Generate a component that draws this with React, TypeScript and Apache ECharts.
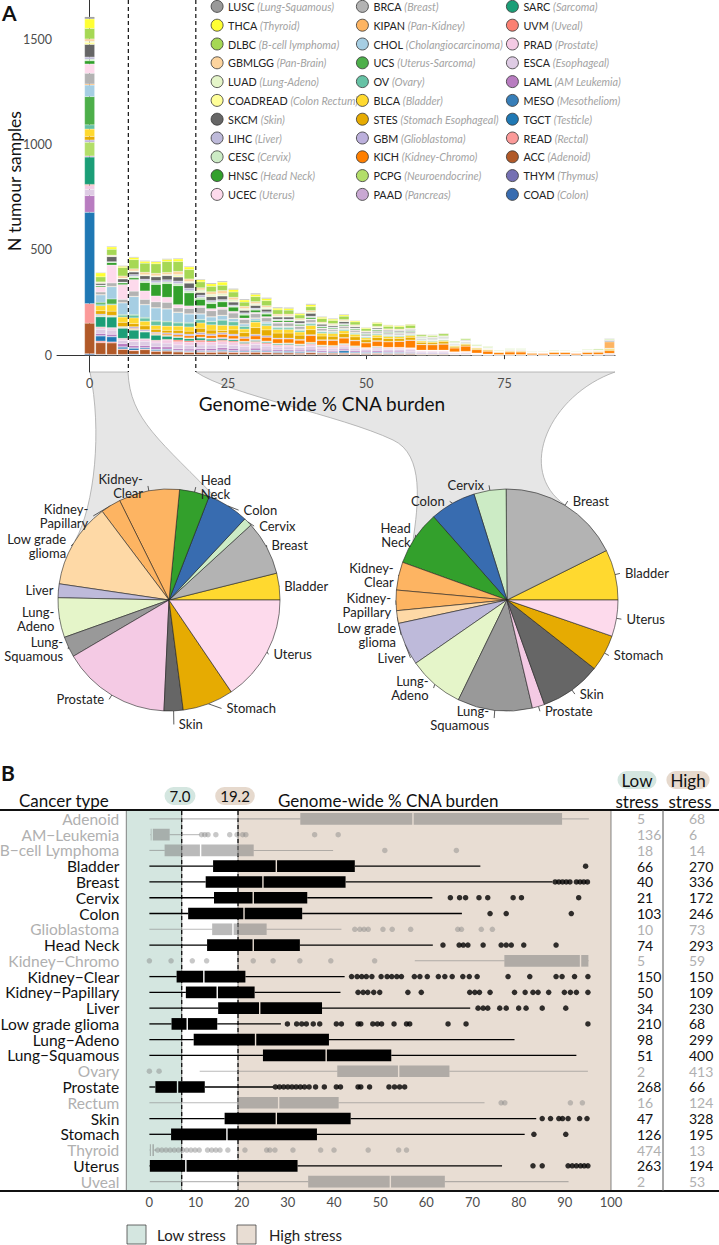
import { useEffect, useRef } from "react";
import * as echarts from "echarts";

const FONT = "Lato, 'Open Sans', sans-serif";

// ---------- Panel A: N tumour samples per 2% CNA-burden bin, stacked by cancer type
const BIN_CENTRES = [0, 2, 4, 6, 8, 10, 12, 14, 16, 18, 20, 22, 24, 26, 28, 30, 32, 34, 36, 38, 40, 42, 44, 46, 48, 50, 52, 54, 56, 58, 60, 62, 64, 66, 68, 70, 72, 74, 76, 78, 80, 82, 84, 86, 88, 90, 92, 94];

const N_LUSC = [10,2,3,3,3,3,3,3,3,3, 3,4,4,4,4,4,4,4,4,3, 4,3,3,3,2,2,2,2,2,2, 2,2,2,1,1,1,1,1,1,1, 1,1,1,1,1,0,1,2];
const N_THCA = [45,19,11,6,10,9,9,10,12,12, 10,12,15,12,10,11,10,8,8,7, 10,6,6,6,5,4,5,5,5,4, 2,2,2,1,1,1,1,1,1,1, 0,0,1,0,0,1,1,1];
const N_DLBC = [50,24,28,40,44,43,45,52,47,45, 28,26,25,25,20,24,24,20,19,17, 18,17,15,16,14,11,13,12,11,14, 7,6,9,5,6,4,4,2,3,3, 2,2,2,2,2,3,4,3];
const N_GBMLGG = [11,3,3,10,10,12,12,10,15,12, 10,12,15,12,10,9,8,8,8,6, 7,5,5,5,4,3,4,4,4,3, 2,2,2,1,1,1,1,1,1,1, 0,0,1,0,0,1,1,1];
const N_LUAD = [5,2,2,2,3,3,3,3,7,5, 9,8,8,8,6,6,6,4,4,4, 4,3,3,3,3,2,2,2,2,2, 1,1,1,1,1,1,1,0,0,0, 0,0,0,0,0,0,0,1];
const N_COADREAD = [10,2,2,2,2,2,2,2,5,3, 3,3,3,3,3,3,3,2,2,2, 2,2,2,2,2,1,2,1,1,1, 1,1,1,0,0,0,0,0,0,0, 0,0,0,0,0,0,0,0];
const N_SKCM = [60,8,24,15,12,16,18,20,19,24, 13,18,17,14,12,13,12,10,10,10, 14,8,6,9,6,5,5,5,5,4, 3,3,3,2,3,1,1,1,1,1, 1,0,1,1,0,1,1,2];
const N_LIHC = [10,2,2,2,8,8,10,10,12,12, 10,7,6,5,5,5,6,3,3,3, 3,3,3,3,2,2,2,2,2,2, 1,1,1,1,1,1,0,0,0,0, 0,0,0,0,0,0,0,0];
const N_CESC = [8,2,2,2,8,8,8,8,10,10, 10,8,5,5,6,4,5,4,4,3, 3,2,2,2,2,1,2,1,1,1, 1,1,1,1,1,0,0,0,0,0, 0,0,0,0,0,0,0,0];
const N_HNSC = [15,5,12,8,8,40,55,65,90,62, 30,24,25,20,14,11,12,7,7,6, 7,5,4,5,4,3,4,3,3,3, 2,2,2,1,1,1,1,0,0,0, 0,0,0,0,0,0,0,0];
const N_UCEC = [44,24,85,70,55,40,28,24,15,12, 8,10,10,8,6,6,6,5,5,4, 4,3,3,3,3,2,2,2,2,2, 1,1,1,1,1,1,1,1,1,1, 1,1,1,1,1,1,1,1];
const N_BRCA = [51,12,16,15,24,24,27,30,20,25, 30,28,28,24,20,20,18,14,14,12, 12,10,7,9,8,6,8,7,7,7, 4,4,4,3,4,2,2,1,2,2, 1,1,1,1,1,2,2,6];
const N_KIPAN = [5,2,2,2,2,2,2,2,2,2, 2,2,2,2,2,2,2,2,2,2, 2,2,2,2,2,1,2,2,2,2, 1,1,1,1,1,1,1,1,1,1, 1,1,1,1,1,1,1,30];
const N_CHOL = [55,35,58,55,85,60,60,58,47,40, 25,20,20,14,10,8,7,5,5,4, 4,3,3,3,3,2,3,2,2,2, 1,1,1,1,1,0,0,0,0,0, 0,0,0,0,0,0,0,0];
const N_UCS = [134,8,24,4,4,3,3,3,3,3, 2,2,2,2,2,2,2,2,2,2, 2,1,1,1,1,1,1,1,1,1, 1,1,1,1,1,1,1,0,0,0, 0,0,0,0,0,0,0,0];
const N_OV = [20,8,4,8,12,15,20,20,15,18, 15,15,24,18,12,8,8,7,7,6, 7,6,6,6,5,4,5,4,4,4, 3,3,3,2,2,1,1,1,1,1, 1,1,1,1,1,1,1,2];
const N_BLCA = [35,24,30,25,27,22,18,20,20,20, 25,25,25,20,17,26,20,17,17,15, 20,13,13,14,12,9,11,10,9,9, 6,6,6,4,4,3,3,2,2,2, 1,1,2,1,1,2,2,4];
const N_STES = [17,16,20,20,15,18,14,12,14,14, 20,18,10,20,20,32,28,24,24,20, 24,18,17,18,16,13,15,14,12,13, 9,8,10,6,7,5,4,2,3,3, 2,1,2,2,1,2,3,5];
const N_GBM = [10,5,3,3,8,7,6,6,8,8, 10,8,8,8,7,8,7,4,4,4, 4,3,3,3,3,2,3,2,2,2, 2,2,2,1,1,1,1,1,1,1, 0,0,0,0,0,0,0,1];
const N_KICH = [0,0,0,0,4,0,4,6,8,10, 12,12,15,14,14,16,18,20,19,18, 32,22,24,26,24,22,24,26,28,35, 26,25,28,18,25,16,14,9,12,12, 7,7,9,9,7,9,10,12];
const N_PCPG = [66,5,3,3,2,2,2,2,2,2, 2,2,2,2,2,2,2,2,2,2, 2,2,2,2,2,1,1,1,1,1, 1,1,1,1,1,1,0,0,0,0, 0,0,0,0,0,0,0,0];
const N_PAAD = [5,3,2,2,2,2,2,2,2,2, 3,3,5,3,3,3,3,2,2,2, 2,2,2,2,2,1,2,1,1,1, 1,1,1,1,1,1,0,0,0,0, 0,0,0,0,0,0,0,0];
const N_SARC = [130,48,50,48,42,32,24,15,12,10, 10,8,6,6,5,5,4,4,4,3, 3,2,2,2,2,1,2,1,1,1, 1,1,1,1,1,0,0,0,0,0, 0,0,0,0,0,0,0,0];
const N_UVM = [5,3,2,2,2,2,3,3,8,6, 8,6,6,6,5,4,5,3,3,3, 4,3,3,3,2,2,2,2,2,2, 1,1,1,1,1,0,0,0,0,0, 0,0,0,0,0,0,0,0];
const N_PRAD = [18,8,10,8,10,10,10,15,15,15, 15,14,15,14,9,10,10,8,8,7, 8,7,7,7,6,5,6,5,5,5, 4,4,4,2,3,2,1,1,1,1, 0,0,1,1,0,1,1,2];
const N_ESCA = [30,20,20,15,20,20,18,18,18,18, 18,16,15,15,14,18,15,13,13,12, 14,11,8,10,9,7,8,8,8,8, 5,5,5,3,4,2,2,1,1,1, 1,1,2,2,1,2,2,4];
const N_LAML = [79,10,10,15,10,10,12,10,8,8, 8,10,10,10,7,9,7,6,6,6, 8,6,6,7,6,5,6,5,5,4, 3,3,3,2,2,1,1,0,0,0, 0,0,0,0,0,0,0,1];
const N_MESO = [0,2,2,2,3,2,2,2,2,2, 2,2,2,2,2,2,2,2,2,2, 2,1,1,1,1,1,1,1,1,1, 1,1,1,0,0,0,0,0,0,0, 0,0,0,0,0,0,0,0];
const N_TGCT = [434,24,24,8,8,5,5,5,3,3, 3,3,5,4,4,5,4,4,5,4, 4,3,4,10,4,4,4,4,4,3, 2,2,2,1,1,1,0,0,0,0, 0,0,0,0,0,0,0,0];
const N_READ = [93,8,5,3,3,3,3,3,3,3, 4,4,4,4,4,4,4,3,3,3, 3,2,2,2,2,2,2,2,2,2, 1,1,1,1,1,1,0,0,0,0, 0,0,0,0,0,0,0,0];
const N_ACC = [145,55,55,24,16,22,15,15,12,10, 10,10,10,9,8,10,8,7,7,6, 8,6,6,6,5,4,5,4,4,4, 3,3,3,2,2,1,1,1,1,1, 1,1,1,1,1,1,1,2];
const N_THYM = [2,1,1,1,1,1,1,1,1,1, 1,1,1,1,1,1,1,1,1,1, 1,1,1,1,1,1,1,1,1,1, 0,0,0,0,0,0,0,0,0,0, 0,0,0,0,0,0,0,0];
const N_COAD = [5,3,2,2,4,3,2,3,2,2, 2,2,3,2,2,2,2,2,2,2, 2,2,2,2,2,2,2,2,2,2, 1,1,1,1,1,0,0,0,0,0, 0,0,0,0,0,0,0,0];

const LEGEND_COL1 = ["LUSC", "THCA", "DLBC", "GBMLGG", "LUAD", "COADREAD", "SKCM", "LIHC", "CESC", "HNSC", "UCEC"];
const LEGEND_COL2 = ["BRCA", "KIPAN", "CHOL", "UCS", "OV", "BLCA", "STES", "GBM", "KICH", "PCPG", "PAAD"];
const LEGEND_COL3 = ["SARC", "UVM", "PRAD", "ESCA", "LAML", "MESO", "TGCT", "READ", "ACC", "THYM", "COAD"];

const TYPE_COUNTS: Record<string, number[]> = {
  LUSC: N_LUSC, THCA: N_THCA, DLBC: N_DLBC, GBMLGG: N_GBMLGG, LUAD: N_LUAD, COADREAD: N_COADREAD,
  SKCM: N_SKCM, LIHC: N_LIHC, CESC: N_CESC, HNSC: N_HNSC, UCEC: N_UCEC, BRCA: N_BRCA, KIPAN: N_KIPAN,
  CHOL: N_CHOL, UCS: N_UCS, OV: N_OV, BLCA: N_BLCA, STES: N_STES, GBM: N_GBM, KICH: N_KICH, PCPG: N_PCPG,
  PAAD: N_PAAD, SARC: N_SARC, UVM: N_UVM, PRAD: N_PRAD, ESCA: N_ESCA, LAML: N_LAML, MESO: N_MESO,
  TGCT: N_TGCT, READ: N_READ, ACC: N_ACC, THYM: N_THYM, COAD: N_COAD,
};

const TYPE_NAMES: Record<string, string> = {
  LUSC: "Lung-Squamous", THCA: "Thyroid", DLBC: "B-cell lymphoma", GBMLGG: "Pan-Brain", LUAD: "Lung-Adeno",
  COADREAD: "Colon Rectum", SKCM: "Skin", LIHC: "Liver", CESC: "Cervix", HNSC: "Head Neck", UCEC: "Uterus",
  BRCA: "Breast", KIPAN: "Pan-Kidney", CHOL: "Cholangiocarcinoma", UCS: "Uterus-Sarcoma", OV: "Ovary",
  BLCA: "Bladder", STES: "Stomach Esophageal", GBM: "Glioblastoma", KICH: "Kidney-Chromo", PCPG: "Neuroendocrine",
  PAAD: "Pancreas", SARC: "Sarcoma", UVM: "Uveal", PRAD: "Prostate", ESCA: "Esophageal", LAML: "AM Leukemia",
  MESO: "Mesotheliom", TGCT: "Testicle", READ: "Rectal", ACC: "Adenoid", THYM: "Thymus", COAD: "Colon",
};

const TYPE_COLOURS: Record<string, string> = {
  LUSC: "#999999", THCA: "#ffff33", DLBC: "#a6d854", GBMLGG: "#fdd49e", LUAD: "#e5f5c9", COADREAD: "#ffff99",
  SKCM: "#666666", LIHC: "#bebada", CESC: "#ccebc5", HNSC: "#33a02c", UCEC: "#fddaec", BRCA: "#b3b3b3",
  KIPAN: "#fdb462", CHOL: "#a6cee3", UCS: "#4daf4a", OV: "#66c2a5", BLCA: "#ffd92f", STES: "#e6ab02",
  GBM: "#bcb0dc", KICH: "#ff7f00", PCPG: "#b3de69", PAAD: "#c9a8d3", SARC: "#1b9e77", UVM: "#fb8072",
  PRAD: "#f4cae4", ESCA: "#decbe4", LAML: "#b87cc0", MESO: "#377eb8", TGCT: "#1f78b4", READ: "#fb9a99",
  ACC: "#b15928", THYM: "#7570b3", COAD: "#386cb0",
};

const A_X_TICKS = [0, 25, 50, 75];
const A_Y_TICKS = [0, 500, 1000, 1500];

// ---------- Pies: low vs high stress groups
const PIE_LABELS = ["Bladder", "Breast", "Cervix", "Colon", "Head\nNeck", "Kidney-\nClear", "Kidney-\nPapillary", "Low grade\nglioma", "Liver", "Lung-\nAdeno", "Lung-\nSquamous", "Prostate", "Skin", "Stomach", "Uterus"];
const PIE_LOW = [66, 134, 21, 103, 74, 150, 50, 210, 34, 98, 51, 268, 47, 126, 263];
const PIE_HIGH = [270, 653, 172, 246, 293, 150, 109, 68, 230, 299, 400, 66, 328, 195, 194];
const PIE_COLOURS = ["#ffd92f", "#b3b3b3", "#ccebc5", "#386cb0", "#33a02c", "#fdb462", "#fdb462", "#fed9a6", "#bebada", "#e5f5c9", "#999999", "#f4cae4", "#666666", "#e6ab02", "#fddaec"];

// ---------- Panel B: CNA burden per cancer type
const ROW_NAMES = ["Adenoid", "AM\u2212Leukemia", "B\u2212cell Lymphoma", "Bladder", "Breast", "Cervix", "Colon", "Glioblastoma", "Head Neck", "Kidney\u2212Chromo", "Kidney\u2212Clear", "Kidney\u2212Papillary", "Liver", "Low grade glioma", "Lung\u2212Adeno", "Lung\u2212Squamous", "Ovary", "Prostate", "Rectum", "Skin", "Stomach", "Thyroid", "Uterus", "Uveal"];
const ROW_MAJOR = [0, 0, 0, 1, 1, 1, 1, 0, 1, 0, 1, 1, 1, 1, 1, 1, 0, 1, 0, 1, 1, 0, 1, 0];
const BOX_MIN = [0, 0.2, 0, 0, 0, 0, 0, 0, 0, 57.5, 0, 0, 0, 0, 0, 0, 10.9, 0, 0, 0, 0, 0, 0, 0.1];
const BOX_Q1 = [32.7, 0.3, 3.3, 13.8, 12.2, 14.0, 8.4, 13.6, 12.5, 76.9, 5.9, 7.9, 14.9, 4.8, 9.6, 24.6, 40.7, 1.3, 19.0, 16.3, 4.7, 0.1, 0.1, 34.4];
const BOX_MED = [57.1, 0.6, 11.1, 27.5, 24.6, 22.5, 20.5, 18.1, 22.5, 93.4, 11.8, 14.7, 23.9, 8.2, 23.0, 38.3, 54.0, 6.1, 28.0, 27.5, 16.8, 0.5, 7.9, 52.2];
const BOX_Q3 = [89.4, 4.4, 22.6, 44.5, 42.5, 34.2, 33.1, 25.4, 32.6, 95.1, 20.8, 22.8, 37.4, 14.7, 38.9, 52.4, 65.0, 12.0, 41.0, 43.6, 36.3, 1.0, 32.1, 64.0];
const BOX_MAX = [95.2, 10.9, 39.8, 71.7, 87.3, 61.3, 67.7, 41.6, 61.4, 95.2, 42.3, 41.4, 69.5, 28.5, 79.1, 92.5, 95.0, 26.8, 72.6, 83.8, 81.3, 1.5, 76.4, 90.8];
const OUTLIERS = [
  [],
  [11.3, 12.0, 12.7, 14.4, 17.4, 19.0, 20.2, 20.9, 35.8, 40.9],
  [51.0, 66.5],
  [94.5],
  [87.9, 88.7, 89.5, 90.3, 91.1, 92.5, 93.3, 94.1, 94.9],
  [65.2, 67.2, 68.5, 71.4, 73.3, 78.8, 80.6, 93.0],
  [73.8, 77.3, 91.4],
  [44.5, 45.6, 46.5, 47.4, 50.6, 52.6, 56.6, 66.8, 67.6, 71.9, 74.3],
  [63.6, 67.1, 68.0, 69.0, 72.3, 76.2, 77.3, 78.4, 81.1, 88.1],
  [0.0, 4.7, 9.3, 12.4, 22.5, 26.8, 32.6, 39.3, 48.8],
  [43.8, 45.0, 46.0, 47.0, 48.2, 50.2, 51.5, 52.5, 53.6, 54.6, 57.4, 58.6, 60.2, 62.6, 64.0, 65.6, 67.9, 69.3, 71.0, 77.7, 82.4, 88.1, 89.4, 92.1, 95.0],
  [45.2, 46.3, 47.3, 48.6, 49.9, 56.0, 58.9, 69.4, 70.5, 71.5, 73.8, 79.1, 81.4, 83.1, 84.2, 86.5, 89.9, 91.2, 92.5, 95.0],
  [71.2, 72.3, 73.3, 75.9, 77.3, 80.0, 81.6, 85.1, 90.2],
  [29.9, 31.9, 33.0, 34.0, 35.5, 36.9, 40.5, 41.6, 45.2, 45.8, 48.4, 49.4, 50.3, 53.0, 55.7, 56.4, 64.7, 68.6, 95.0],
  [],
  [],
  [0.0, 2.1],
  [27.3, 28.2, 29.1, 30.0, 30.9, 31.8, 32.7, 33.6, 34.6, 36.0, 37.9, 40.5, 41.4, 45.2, 45.8, 47.7, 51.9, 53.1, 54.2, 55.3],
  [76.2, 77.0, 91.2, 93.8],
  [85.1, 86.9, 88.7, 89.5, 90.7, 93.2, 94.8],
  [83.3, 90.2],
  [1.8, 2.7, 3.6, 4.5, 5.4, 6.3, 7.2, 8.1, 9.0, 9.9, 10.8, 12.6, 13.5, 14.4, 15.3, 17.0, 20.7, 25.4, 26.1, 27.2, 31.1, 37.1, 40.0, 47.4, 54.0, 55.7],
  [83.1, 85.1, 90.7, 91.6, 92.5, 93.4, 94.2, 95.0],
  [],
];
const LOW_COUNTS = [5, 136, 18, 66, 40, 21, 103, 10, 74, 5, 150, 50, 34, 210, 98, 51, 2, 268, 16, 47, 126, 474, 263, 2];
const HIGH_COUNTS = [68, 6, 14, 270, 336, 172, 246, 73, 293, 59, 150, 109, 230, 68, 299, 400, 413, 66, 124, 328, 195, 13, 194, 53];
const THRESHOLD_LOW = 7.0;
const THRESHOLD_HIGH = 19.2;
const B_X_TICKS = [0, 10, 20, 30, 40, 50, 60, 70, 80, 90, 100];

const LOW_FILL = "#d4e6e0";
const HIGH_FILL = "#e8ddd3";
const GREY_MARK = "rgba(130,130,130,0.55)";
const GREY_TEXT = "#b0b0b0";

const FUNNEL_LEFT_D = "M90 372 L128 372 C130 420 160 440 221 503 L169 600 L75 541 C95 505 102 430 90 372 Z";
const FUNNEL_RIGHT_D = "M196 372 L615 372 C550 395 515 470 565 505 L507 600 L413 541 C418 505 425 455 393 440 C340 415 230 395 196 372 Z";

// Panel A x scale: -5.9 .. 95 across 558px starting at 57px; the bar grid is laid so that
// each category band is exactly one 2% bin wide and centred on its bin value.
const A_X_MIN = -5.9;
const A_X_MAX = 95;
const A_LEFT = 57;
const A_WIDTH = 558;
const A_UNIT = A_WIDTH / (A_X_MAX - A_X_MIN);
const BAR_GRID_LEFT = A_LEFT + (BIN_CENTRES[0] - 1 - A_X_MIN) * A_UNIT;
const BAR_GRID_WIDTH = BIN_CENTRES.length * 2 * A_UNIT;

const App = () => {
  const chartRef = useRef<HTMLDivElement>(null);

  useEffect(() => {
    document.body.style.margin = "0";
    echarts.graphic.registerShape("funnelLeft", echarts.graphic.extendPath(FUNNEL_LEFT_D, {}));
    echarts.graphic.registerShape("funnelRight", echarts.graphic.extendPath(FUNNEL_RIGHT_D, {}));

    const chart = echarts.init(chartRef.current, null, { renderer: "svg" });

    const stackOrder = [...LEGEND_COL1, ...LEGEND_COL2, ...LEGEND_COL3].reverse();
    const barSeries = stackOrder.map((code) => ({
      name: code,
      type: "bar",
      stack: "cna",
      xAxisIndex: 2,
      yAxisIndex: 4,
      barWidth: 10,
      data: TYPE_COUNTS[code],
      itemStyle: { color: TYPE_COLOURS[code], borderColor: "#ffffff", borderWidth: 0.2 },
    }));

    const legendBase = {
      orient: "vertical",
      top: 0,
      padding: 0,
      itemGap: 6,
      itemWidth: 12,
      itemHeight: 12,
      icon: "circle",
      selectedMode: false,
      itemStyle: { borderColor: "#333", borderWidth: 0.8 },
      textStyle: {
        fontFamily: FONT,
        fontSize: 10.8,
        lineHeight: 12,
        color: "#222",
        rich: { d: { color: "#a3a3a3", fontStyle: "italic", fontFamily: FONT, fontSize: 10.8, lineHeight: 12 } },
      },
      formatter: (name: string) => `${name} {d|(${TYPE_NAMES[name]})}`,
    };

    const pieBase = {
      type: "pie",
      radius: 111,
      startAngle: 0,
      clockwise: false,
      z: 3,
      itemStyle: { borderColor: "#222", borderWidth: 0.6 },
      label: { color: "#222", fontSize: 13, fontFamily: FONT, lineHeight: 14, overflow: "none", bleedMargin: 0 },
      labelLine: { length: 5, length2: 0, lineStyle: { color: "#333", width: 0.8 } },
    };

    const rowItems = ROW_NAMES.map((n, i) => ({
      value: n,
      textStyle: { color: ROW_MAJOR[i] ? "#111" : GREY_TEXT },
    }));

    const countAxis = (counts: number[], margin: number) => ({
      gridIndex: 1,
      type: "category",
      inverse: true,
      position: "right",
      data: rowItems,
      axisLine: { show: false },
      axisTick: { show: false },
      axisLabel: {
        interval: 0,
        margin,
        align: "center",
        fontSize: 14,
        fontFamily: FONT,
        formatter: (_v: string, i: number) => String(counts[i]),
      },
    });

    const headerText = (text: string, x: number, y: number, size: number, align = "left", extra = {}) => ({
      type: "text",
      x,
      y,
      z: 20,
      style: {
        text,
        fill: "#111",
        fontSize: size,
        fontFamily: FONT,
        align,
        textAlign: align,
        verticalAlign: "middle",
        textVerticalAlign: "middle",
        ...extra,
      },
    });

    const vLines = (z: number, width: number) => ({
      type: "custom",
      xAxisIndex: z === 6 ? 0 : 1,
      yAxisIndex: z === 6 ? 0 : 1,
      z,
      silent: true,
      encode: { x: 0, y: 1 },
      data: [
        [THRESHOLD_LOW, 0],
        [THRESHOLD_HIGH, 0],
      ],
      renderItem: (params: any, api: any) => {
        const cs = params.coordSys;
        const x = api.coord([api.value(0), 0])[0];
        return {
          type: "line",
          shape: { x1: x, y1: cs.y, x2: x, y2: cs.y + cs.height },
          style: { stroke: "#111", lineWidth: width, lineDash: [4, 3] },
        };
      },
    });

    const options = {
      animation: false,
      textStyle: { fontFamily: FONT },
      grid: [
        { left: A_LEFT, top: 0, width: A_WIDTH, height: 372, outerBoundsMode: "none" },
        { left: 126.3, top: 811, width: 484.7, height: 378.5, outerBoundsMode: "none" },
        { left: BAR_GRID_LEFT, top: 0, width: BAR_GRID_WIDTH, height: 372, outerBoundsMode: "none" },
      ],
      xAxis: [
        {
          gridIndex: 0,
          type: "value",
          min: A_X_MIN,
          max: A_X_MAX,
          splitLine: { show: false },
          axisLine: { lineStyle: { color: "#333", width: 1 } },
          axisTick: { customValues: A_X_TICKS, length: 4, lineStyle: { color: "#333" } },
          axisLabel: { customValues: A_X_TICKS, color: "#4d4d4d", fontSize: 12.5, margin: 5 },
        },
        {
          gridIndex: 1,
          type: "value",
          min: -5,
          max: 100,
          splitLine: { show: false },
          axisLine: { show: false },
          axisTick: { customValues: B_X_TICKS, length: 4, lineStyle: { color: "#333" } },
          axisLabel: { customValues: B_X_TICKS, color: "#4d4d4d", fontSize: 13, margin: 6 },
        },
        {
          gridIndex: 2,
          type: "category",
          data: BIN_CENTRES.map(String),
          show: false,
        },
      ],
      yAxis: [
        {
          gridIndex: 0,
          type: "value",
          min: -80,
          max: 1687,
          splitLine: { show: false },
          axisLine: { show: true, lineStyle: { color: "#333", width: 1 } },
          axisTick: { show: true, customValues: A_Y_TICKS, length: 4, lineStyle: { color: "#333" } },
          axisLabel: { customValues: A_Y_TICKS, color: "#4d4d4d", fontSize: 12.5, margin: 5, formatter: (v: number) => String(v) },
        },
        {
          gridIndex: 1,
          type: "category",
          inverse: true,
          data: rowItems,
          axisLine: { show: false },
          axisTick: { show: true, interval: 0, alignWithLabel: true, length: 5, lineStyle: { color: "#333" } },
          axisLabel: { interval: 0, fontSize: 15.5, margin: 7, fontFamily: FONT },
        },
        countAxis(LOW_COUNTS, 26),
        countAxis(HIGH_COUNTS, 78),
        {
          gridIndex: 2,
          type: "value",
          min: -80,
          max: 1687,
          show: false,
        },
      ],
      legend: [
        { ...legendBase, left: 210.7, data: LEGEND_COL1 },
        { ...legendBase, left: 356, data: LEGEND_COL2 },
        { ...legendBase, left: 506, data: LEGEND_COL3 },
      ],
      series: [
        ...barSeries,
        vLines(6, 1.2),
        {
          ...pieBase,
          name: "Low stress",
          center: [169, 600],
          data: PIE_LABELS.map((n, i) => ({ name: n, value: PIE_LOW[i], itemStyle: { color: PIE_COLOURS[i] } })),
        },
        {
          ...pieBase,
          name: "High stress",
          center: [507, 600],
          data: PIE_LABELS.map((n, i) => ({ name: n, value: PIE_HIGH[i], itemStyle: { color: PIE_COLOURS[i] } })),
        },
        {
          type: "custom",
          name: "bands",
          xAxisIndex: 1,
          yAxisIndex: 1,
          z: 1,
          silent: true,
          encode: { x: [0, 2], y: 1 },
          data: [
            [-5, 0, THRESHOLD_LOW, 0],
            [THRESHOLD_HIGH, 0, 100, 1],
          ],
          renderItem: (params: any, api: any) => {
            const cs = params.coordSys;
            const x0 = api.coord([api.value(0), 0])[0];
            const x1 = api.coord([api.value(2), 0])[0];
            return {
              type: "rect",
              shape: { x: x0, y: cs.y - 1, width: x1 - x0, height: cs.height + 2 },
              style: { fill: api.value(3) === 0 ? LOW_FILL : HIGH_FILL, stroke: "#555", lineWidth: 0.7 },
            };
          },
        },
        vLines(2, 1.3),
        {
          type: "custom",
          name: "boxes",
          xAxisIndex: 1,
          yAxisIndex: 1,
          z: 3,
          encode: { x: [1, 2, 3, 4, 5], y: 0 },
          data: ROW_NAMES.map((_n, i) => [i, BOX_MIN[i], BOX_Q1[i], BOX_MED[i], BOX_Q3[i], BOX_MAX[i], ROW_MAJOR[i]]),
          renderItem: (_params: any, api: any) => {
            const row = api.value(0);
            const lo = api.coord([api.value(1), row]);
            const q1 = api.coord([api.value(2), row]);
            const md = api.coord([api.value(3), row]);
            const q3 = api.coord([api.value(4), row]);
            const hi = api.coord([api.value(5), row]);
            const major = api.value(6) === 1;
            const fill = major ? "#000" : GREY_MARK;
            const h = api.size([0, 1])[1] * 0.74;
            const y = lo[1];
            const lw = major ? 1.3 : 1.1;
            return {
              type: "group",
              children: [
                { type: "line", shape: { x1: lo[0], y1: y, x2: q1[0], y2: y }, style: { stroke: fill, lineWidth: lw } },
                { type: "line", shape: { x1: q3[0], y1: y, x2: hi[0], y2: y }, style: { stroke: fill, lineWidth: lw } },
                { type: "rect", shape: { x: q1[0], y: y - h / 2, width: Math.max(md[0] - q1[0] - 0.7, 0.6), height: h }, style: { fill } },
                { type: "rect", shape: { x: md[0] + 0.7, y: y - h / 2, width: Math.max(q3[0] - md[0] - 0.7, 0.6), height: h }, style: { fill } },
              ],
            };
          },
        },
        {
          type: "scatter",
          name: "outliers",
          xAxisIndex: 1,
          yAxisIndex: 1,
          z: 4,
          symbolSize: 5.5,
          data: OUTLIERS.flatMap((xs, row) => xs.map((x) => [x, row, ROW_MAJOR[row]])),
          itemStyle: { color: (p: any) => (p.data[2] ? "#000" : GREY_MARK) },
        },
      ],
      graphic: {
        elements: [
          { type: "funnelLeft", x: 0, y: 0, z: -1, silent: true, style: { fill: "#e6e6e6", stroke: "#a8a8a8", lineWidth: 0.8 } },
          { type: "funnelRight", x: 0, y: 0, z: -1, silent: true, style: { fill: "#e6e6e6", stroke: "#a8a8a8", lineWidth: 0.8 } },
          headerText("A", 2, 12, 21, "left", { fontWeight: "bold" }),
          { ...headerText("N tumour samples", 0, 0, 17.5, "center"), x: 14, y: 181, rotation: Math.PI / 2 },
          headerText("Genome-wide % CNA burden", 322, 403, 19, "center"),
          headerText("B", 1, 772, 21, "left", { fontWeight: "bold" }),
          headerText("Cancer type", 19, 800, 17),
          headerText("7.0", 180, 796, 15, "center", { backgroundColor: LOW_FILL, padding: [2, 5, 1, 5], borderRadius: 9 }),
          headerText("19.2", 235, 796, 15, "center", { backgroundColor: "#e6d9cd", padding: [2, 5, 1, 5], borderRadius: 9 }),
          headerText("Genome-wide % CNA burden", 278, 800, 17),
          headerText("Low", 637, 780, 17, "center", { backgroundColor: LOW_FILL, padding: [1, 4, 0, 4], borderRadius: 9 }),
          headerText("stress", 637, 801, 17, "center"),
          headerText("High", 688, 780, 17, "center", { backgroundColor: "#e6d9cd", padding: [1, 4, 0, 4], borderRadius: 9 }),
          headerText("stress", 690, 801, 17, "center"),
          { type: "line", z: 20, shape: { x1: 0, y1: 810, x2: 719, y2: 810 }, style: { stroke: "#111", lineWidth: 2 } },
          { type: "line", z: 20, shape: { x1: 0, y1: 1191, x2: 719, y2: 1191 }, style: { stroke: "#111", lineWidth: 2 } },
          { type: "line", z: 20, shape: { x1: 663, y1: 810, x2: 663, y2: 1191 }, style: { stroke: "#555", lineWidth: 1 } },
          { type: "rect", z: 20, shape: { x: 127, y: 1225, width: 19, height: 19 }, style: { fill: LOW_FILL, stroke: "#444", lineWidth: 0.8 } },
          headerText("Low stress", 157, 1235, 15, "left", { fill: "#222" }),
          { type: "rect", z: 20, shape: { x: 237, y: 1225, width: 19, height: 19 }, style: { fill: HIGH_FILL, stroke: "#444", lineWidth: 0.8 } },
          headerText("High stress", 269, 1235, 15, "left", { fill: "#222" }),
        ],
      },
    };

    chart.setOption(options);

    return () => {
      chart.dispose();
    };
  }, []);

  return <div ref={chartRef} style={{ width: "719px", height: "1245px" }} />;
};

export default App;
